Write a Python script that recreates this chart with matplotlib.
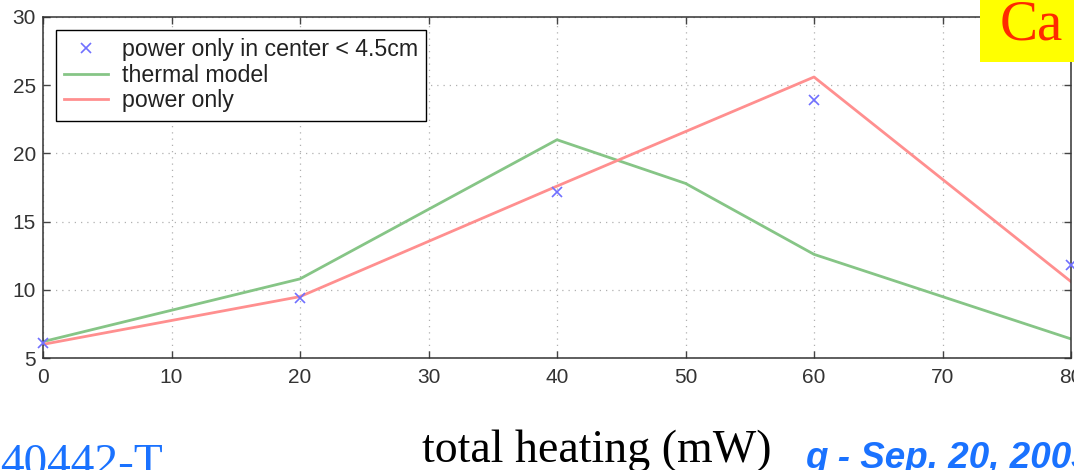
import matplotlib as mpl
mpl.use('Agg')
import matplotlib.pyplot as plt
from matplotlib.patches import Rectangle

# data
x_pts = [0, 20, 40, 60, 80]
center_only = [6.1, 9.4, 17.2, 23.9, 11.8]

x_thermal = [0, 20, 40, 50, 60, 80]
thermal = [6.2, 10.8, 21.0, 17.8, 12.6, 6.4]

x_power = [0, 20, 40, 60, 80]
power = [6.0, 9.5, 17.6, 25.6, 10.6]

xticks = [0, 10, 20, 30, 40, 50, 60, 70, 80]
yticks = [5, 10, 15, 20, 25, 30]

W, H = 1074, 470
fig = plt.figure(figsize=(W / 100, H / 100), dpi=100)
ax = fig.add_axes([43 / W, 1 - 358 / H, (1071 - 43) / W, (358 - 17) / H])

tick_font = {'family': 'Liberation Sans', 'size': 15}

ax.plot(x_pts, center_only, 'x', color='#7070ff', markersize=7, mew=1.2,
        label='power only in center < 4.5cm', clip_on=False, zorder=4)
ax.plot(x_thermal, thermal, color='#86c586', lw=2, label='thermal model')
ax.plot(x_power, power, color='#ff8f8f', lw=2, label='power only')

ax.set_xlim(0, 80)
ax.set_ylim(5, 30)
ax.set_xticks(xticks)
ax.set_yticks(yticks)
ax.set_xticklabels([str(v) for v in xticks], fontdict=tick_font, color='#333333')
ax.set_yticklabels([str(v) for v in yticks], fontdict=tick_font, color='#333333')
ax.tick_params(direction='in', length=5, width=1, color='#444444',
               top=True, right=True)
ax.tick_params(axis='x', pad=7)
ax.tick_params(axis='y', pad=5)
ax.grid(True, color='#b0b0b0', lw=0.9, linestyle=(0, (1, 4)))
for s in ax.spines.values():
    s.set_color('#333333')
    s.set_linewidth(1.1)

leg = ax.legend(loc='upper left', prop={'family': 'Liberation Sans', 'size': 16.7},
                frameon=True, fancybox=False, framealpha=1, edgecolor='black',
                borderaxespad=0.55, handlelength=1.9, handletextpad=0.6,
                labelspacing=0.12, borderpad=0.35)
leg.get_frame().set_linewidth(1.0)
for t in leg.get_texts():
    t.set_color('#222222')

# slide text around the plot
fig.text(0, -6 / H, '40442-T', family='Liberation Serif', size=34,
         color='#1a72ff', ha='left', va='baseline')
fig.text(597 / W, 8 / H, 'total heating (mW)', family='Liberation Serif',
         size=33, color='black', ha='center', va='baseline')
fig.text(805 / W, 2 / H, 'g - Sep. 20, 2003', family='Liberation Sans',
         size=26.5, weight='bold', style='italic', color='#1a72ff',
         ha='left', va='baseline')

fig.patches.append(Rectangle((980 / W, 1 - 62 / H), 200 / W, 62 / H,
                             transform=fig.transFigure, facecolor='#ffff00',
                             edgecolor='none', zorder=10))
fig.text(1000 / W, 1 - 40 / H, 'Ca', family='Liberation Serif', size=41,
         color='#ff2a00', ha='left', va='baseline', zorder=11)

fig.savefig('out.png', dpi=100)
